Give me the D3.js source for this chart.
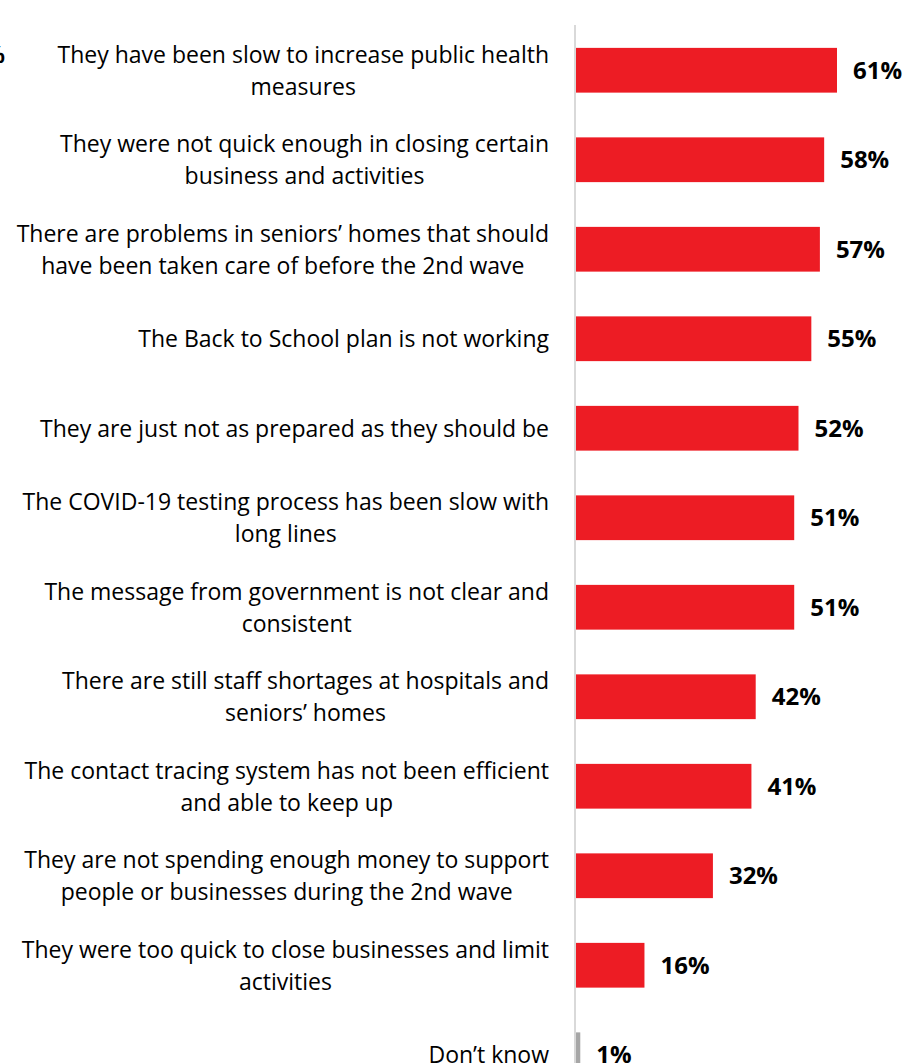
<!DOCTYPE html>
<html>
<head>
<meta charset="utf-8">
<script src="https://cdn.jsdelivr.net/npm/d3@7"></script>
<style>
  html, body { margin: 0; padding: 0; background: #fff; }
  svg { display: block; font-family: "Open Sans", Lato, sans-serif; }
</style>
</head>
<body>
<svg id="chart" width="906" height="1063"></svg>
<script>
// Reasons given, one entry per bar (lines split where the label wraps)
const categories = [
  ["They have been slow to increase public health", "measures"],
  ["They were not quick enough in closing certain", "business and activities"],
  ["There are problems in seniors\u2019 homes that should", "have been taken care of before the 2nd wave"],
  ["The Back to School plan is not working"],
  ["They are just not as prepared as they should be"],
  ["The COVID-19 testing process has been slow with", "long lines"],
  ["The message from government is not clear and", "consistent"],
  ["There are still staff shortages at hospitals and", "seniors\u2019 homes"],
  ["The contact tracing system has not been efficient", "and able to keep up"],
  ["They are not spending enough money to support", "people or businesses during the 2nd wave"],
  ["They were too quick to close businesses and limit", "activities"],
  ["Don\u2019t know"]
];
const values = [61, 58, 57, 55, 52, 51, 51, 42, 41, 32, 16, 1];
const isOther = [false, false, false, false, false, false, false, false, false, false, false, true];

const svg = d3.select("#chart");
const axisX = 576;
const labelRight = 549;

const x = d3.scaleLinear().domain([0, 61]).range([axisX, 837]);
const y = d3.scaleBand()
  .domain(d3.range(values.length))
  .range([25.5, 25.5 + 89.5 * values.length])
  .paddingInner(0.5)
  .paddingOuter(0.25);

// clipped fragment of a heading on the left edge
svg.append("text")
  .attr("x", 5).attr("y", 63)
  .attr("text-anchor", "end")
  .attr("font-size", 23)
  .attr("font-weight", "bold")
  .attr("fill", "#000")
  .text("%");

// vertical baseline of the bars
svg.append("line")
  .attr("x1", axisX - 1).attr("x2", axisX - 1)
  .attr("y1", 25).attr("y2", 1063)
  .attr("stroke", "#d9d9d9").attr("stroke-width", 2);

// bars
svg.selectAll("rect.bar")
  .data(values)
  .join("rect")
  .attr("class", "bar")
  .attr("x", axisX)
  .attr("y", (d, i) => y(i))
  .attr("width", d => x(d) - axisX)
  .attr("height", y.bandwidth())
  .attr("fill", (d, i) => isOther[i] ? "#a6a6a6" : "#ed1c24");

// value labels
svg.selectAll("text.val")
  .data(values)
  .join("text")
  .attr("class", "val")
  .attr("x", d => x(d) + 16)
  .attr("y", (d, i) => y(i) + y.bandwidth() / 2)
  .attr("dy", "0.36em")
  .attr("font-size", 24)
  .attr("font-weight", "bold")
  .attr("fill", "#000")
  .text(d => d + "%");

// category labels: lines centred on each other, block right-aligned
const lineH = 32;
const fs = 23;
categories.forEach((lines, i) => {
  const cy = y(i) + y.bandwidth() / 2;
  const g = svg.append("g");
  const texts = lines.map((ln, k) =>
    g.append("text")
      .attr("font-size", fs)
      .attr("fill", "#000")
      .attr("text-anchor", "middle")
      .attr("y", cy + (k - (lines.length - 1) / 2) * lineH)
      .attr("dy", "0.36em")
      .text(ln)
  );
  const maxW = d3.max(texts, t => t.node().getComputedTextLength());
  texts.forEach(t => t.attr("x", labelRight - maxW / 2));
});
</script>
</body>
</html>
